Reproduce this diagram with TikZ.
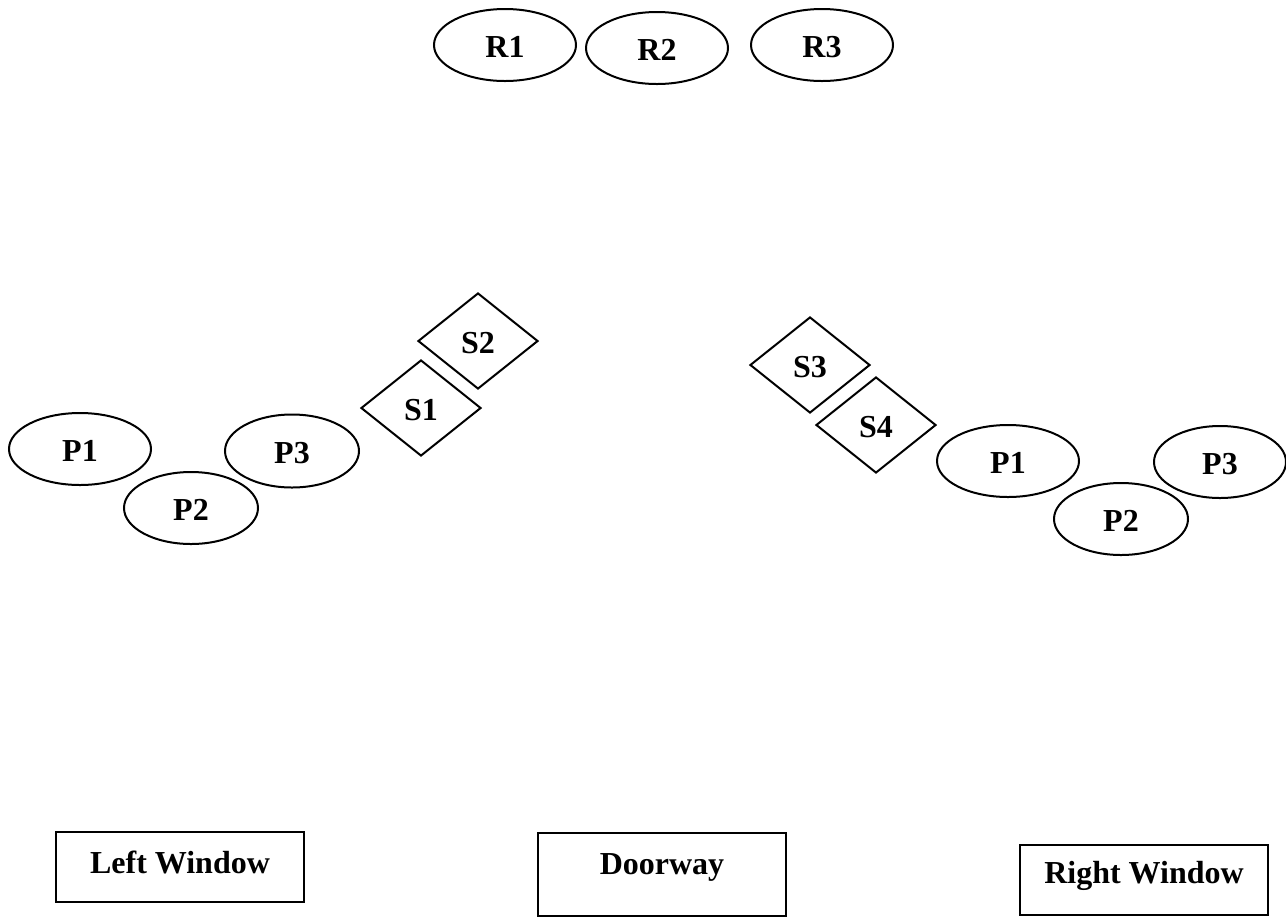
\documentclass[tikz,border=0pt]{standalone}
\usepackage{fontspec}
\setmainfont{Liberation Serif}
\usetikzlibrary{shapes.geometric}
\tikzset{
  lbl/.style={font=\bfseries\fontsize{16}{19}\selectfont, inner sep=0pt, line width=1pt, draw=black},
  oval/.style={lbl, ellipse, text height=12.5pt, text depth=0pt, minimum width=71pt, minimum height=36pt},
  ovalsm/.style={oval, minimum width=67pt},
  seat/.style={lbl, diamond, text height=12.5pt, text depth=0pt, minimum width=60pt, minimum height=48pt},
  opening/.style={lbl, rectangle, minimum width=124pt, text depth=0pt}
}
\begin{document}
\begin{tikzpicture}[x=0.5pt, y=-0.5pt]
\useasboundingbox (0,0) rectangle (1286,917);
% top row
\node[oval] (r1) at (505,45) {R1};
\node[oval] (r2) at (657,48) {R2};
\node[oval] (r3) at (822,45) {R3};
% diamonds
\node[seat] (s2) at (478,341) {S2};
\node[seat] (s1) at (421,408) {S1};
\node[seat] (s3) at (810,365) {S3};
\node[seat] (s4) at (876,425) {S4};
% left group
\node[oval] (lp1) at (80,449) {P1};
\node[ovalsm] (lp2) at (191,508) {P2};
\node[ovalsm, minimum height=36.5pt] (lp3) at (292,451) {P3};
% right group
\node[oval] (rp1) at (1008,461) {P1};
\node[ovalsm] (rp2) at (1121,519) {P2};
\node[ovalsm, minimum width=66pt] (rp3) at (1220,462) {P3};
% openings
\node[opening, minimum height=35pt, text height=6pt] (lw) at (180,867) {Left Window};
\node[opening, minimum height=41.5pt, text height=0pt] (door) at (662,874.5) {Doorway};
\node[opening, minimum height=35pt, text height=3pt] (rw) at (1144,880) {Right Window};
\end{tikzpicture}
\end{document}
